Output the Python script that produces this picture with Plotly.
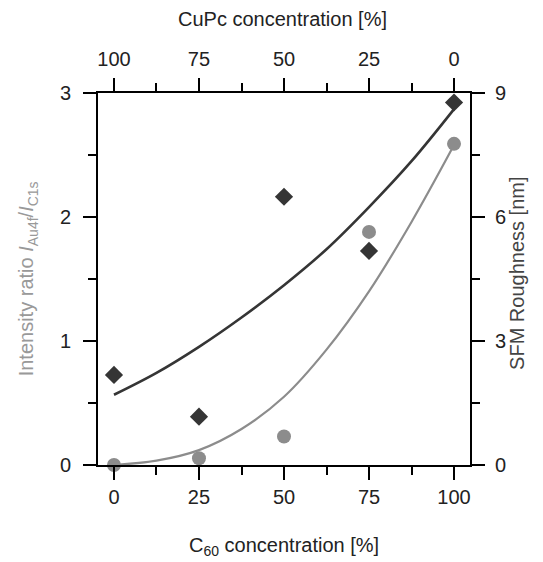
import plotly.graph_objects as go

# ---- data ----
c60 = [0, 25, 50, 75, 100]
intensity_ratio = [0.0, 0.055, 0.23, 1.88, 2.59]          # left axis, gray circles
roughness_nm = [2.18, 1.17, 6.49, 5.18, 8.77]               # right axis, dark diamonds

fit_x = [0, 12.5, 25, 37.5, 50, 62.5, 75, 87.5, 100]
fit_ratio = [0.0, 0.035, 0.12, 0.29, 0.55, 0.93, 1.40, 1.96, 2.58]      # gray fit (left)
fit_rough = [1.70, 2.23, 2.86, 3.57, 4.35, 5.22, 6.24, 7.35, 8.61]      # dark fit (right)

x_ticks = [0, 25, 50, 75, 100]
left_ticks = [0, 1, 2, 3]
right_ticks = [0, 3, 6, 9]

DARK = "#353535"
GRAY = "#8c8c8c"
FONT = "Liberation Sans, Arial, sans-serif"
TF = 20

fig = go.Figure()
fig.add_trace(go.Scatter(x=fit_x, y=fit_ratio, mode="lines", line=dict(color=GRAY, width=2.2, shape="spline"),
                         xaxis="x", yaxis="y", showlegend=False, hoverinfo="skip"))
fig.add_trace(go.Scatter(x=fit_x, y=fit_rough, mode="lines", line=dict(color=DARK, width=2.6, shape="spline"),
                         xaxis="x", yaxis="y2", showlegend=False, hoverinfo="skip"))
fig.add_trace(go.Scatter(x=c60, y=intensity_ratio, mode="markers",
                         marker=dict(symbol="circle", size=14, color=GRAY),
                         xaxis="x", yaxis="y", showlegend=False, cliponaxis=False))
fig.add_trace(go.Scatter(x=c60, y=roughness_nm, mode="markers",
                         marker=dict(symbol="diamond", size=14, color=DARK),
                         xaxis="x", yaxis="y2", showlegend=False, cliponaxis=False))
# invisible trace to activate the top axis
fig.add_trace(go.Scatter(x=[100 - v for v in c60], y=intensity_ratio, mode="markers",
                         marker=dict(opacity=0), xaxis="x2", yaxis="y", showlegend=False, hoverinfo="skip"))

XR = [-4.7, 104.7]
common = dict(showline=True, linecolor="black", linewidth=2, ticks="outside", ticklen=13, tickwidth=2,
              tickcolor="black", showgrid=False, zeroline=False, automargin=False,
              tickfont=dict(family=FONT, size=TF, color="#222"))
minor = lambda d: dict(dtick=d, tick0=0, ticklen=8, tickwidth=2, tickcolor="black", ticks="outside")

fig.update_layout(
    template="none",
    width=543, height=562,
    margin=dict(l=98, r=73, t=93, b=97, autoexpand=False),
    paper_bgcolor="white", plot_bgcolor="white",
    font=dict(family=FONT),
    xaxis=dict(range=XR, tickvals=x_ticks, anchor="y", minor=minor(12.5), ticklabelstandoff=0, **common),
    xaxis2=dict(range=[100 - XR[0], 100 - XR[1]], tickvals=x_ticks, overlaying="x", side="top", anchor="y",
                minor=minor(12.5), ticklabelstandoff=4, **common),
    yaxis=dict(range=[0, 3], tickvals=left_ticks, minor=minor(0.5), ticklabelstandoff=8, **common),
    yaxis2=dict(range=[0, 9], tickvals=right_ticks, overlaying="y", side="right", anchor="x",
                minor=minor(1.5), ticklabelstandoff=6, **common),
    annotations=[
        dict(text="CuPc concentration [%]", xref="paper", yref="paper", x=0.495, y=1.199,
             xanchor="center", yanchor="middle",
             showarrow=False, font=dict(family=FONT, size=20, color="#222")),
        dict(text="C<sub>60</sub> concentration [%]", xref="paper", yref="paper", x=0.50, y=-0.22,
             xanchor="center", yanchor="middle",
             showarrow=False, font=dict(family=FONT, size=20, color="#222")),
        dict(text="Intensity ratio <i>I</i><sub>Au4f</sub>/<i>I</i><sub>C1s</sub>", xref="paper", yref="paper",
             x=-0.19, y=0.50, textangle=-90, xanchor="center", yanchor="middle",
             showarrow=False, font=dict(family=FONT, size=20, color="#999")),
        dict(text="SFM Roughness [nm]", xref="paper", yref="paper", x=1.126, y=0.516, textangle=-90,
             xanchor="center", yanchor="middle",
             showarrow=False, font=dict(family=FONT, size=20, color="#444")),
    ],
)

fig.write_html("out.html")
